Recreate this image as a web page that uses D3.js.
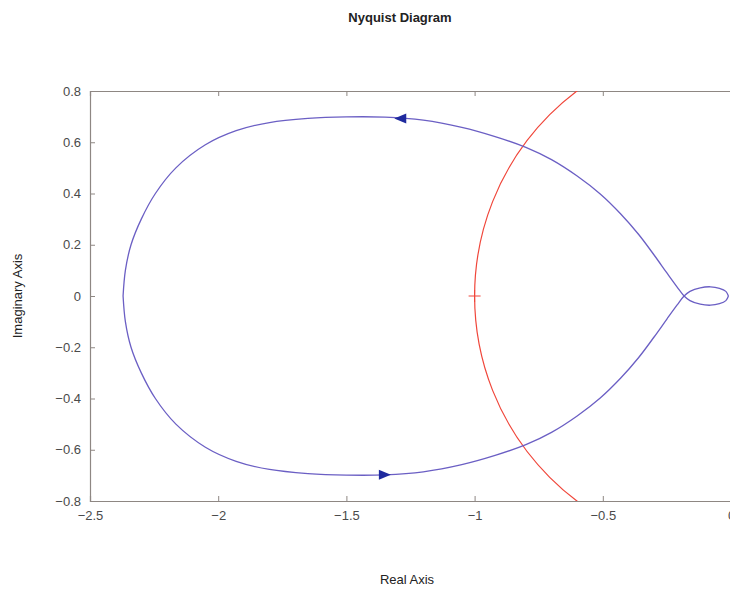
<!DOCTYPE html>
<html lang="en">
  <head>
    <meta charset="utf-8" />
    <title>Nyquist Diagram</title>
    <script src="https://d3js.org/d3.v7.min.js"></script>
    <style type="text/css">
      body { margin: 0; background: #fff; }
      text { font-family: "Liberation Sans", Arial, sans-serif; }
    </style>
  </head>
  <body>
    <script type="text/javascript">
      //Width and height
      const w = 730;
      const h = 590;

      // positive-frequency branch (real, imaginary)
      const re = [-2.371, -2.362, -2.340, -2.300, -2.245, -2.165, -2.05, -1.93, -1.80, -1.65, -1.50, -1.35,
        -1.20, -1.05, -0.92, -0.80, -0.70, -0.60, -0.51, -0.43, -0.36, -0.30, -0.25, -0.21, -0.183,
        -0.16, -0.12, -0.08, -0.045, -0.02, -0.01];
      const im = [0, 0.10, 0.20, 0.30, 0.40, 0.50, 0.59, 0.645, 0.677, 0.693, 0.699, 0.698,
        0.686, 0.658, 0.622, 0.58, 0.532, 0.468, 0.398, 0.32, 0.24, 0.16, 0.09, 0.035, 0,
        -0.018, -0.032, -0.036, -0.03, -0.018, 0];

      // arrow positions [re, im, direction]
      const arrows = [[-1.29, 0.693, -1], [-1.35, -0.698, 1]];

      const xTicks = [-2.5, -2, -1.5, -1, -0.5, 0];
      const yTicks = [0.8, 0.6, 0.4, 0.2, 0, -0.2, -0.4, -0.6, -0.8];
      const criticalPoint = [-1, 0];
      const unitRadius = 1;

      const margin = { left: 90, right: w - 731, top: 91, bottom: h - 501 };

      const xScale = d3.scaleLinear().domain([-2.5, 0]).range([margin.left, w - margin.right]);
      const yScale = d3.scaleLinear().domain([-0.8, 0.8]).range([h - margin.bottom, margin.top]);

      const svg = d3.select('body').append('svg').attr('width', w).attr('height', h);

      svg.append('defs').append('clipPath').attr('id', 'plot')
        .append('rect')
        .attr('x', xScale(-2.5)).attr('y', yScale(0.8))
        .attr('width', xScale(0) - xScale(-2.5))
        .attr('height', yScale(-0.8) - yScale(0.8));

      const frameColor = '#8e8783';
      const labelColor = '#4a4a4a';

      //Axes
      const xAxis = svg.append('g')
        .attr('transform', `translate(0,${yScale(-0.8)})`)
        .call(d3.axisBottom(xScale).tickValues(xTicks).tickSize(-5).tickPadding(10).tickFormat(d3.format('')));
      const xAxisTop = svg.append('g')
        .attr('transform', `translate(0,${yScale(0.8)})`)
        .call(d3.axisTop(xScale).tickValues(xTicks).tickSize(-5).tickFormat(''));
      const yAxis = svg.append('g')
        .attr('transform', `translate(${xScale(-2.5)},0)`)
        .call(d3.axisLeft(yScale).tickValues(yTicks).tickSize(-5).tickPadding(9).tickFormat(d3.format('')));

      [xAxis, xAxisTop, yAxis].forEach((g) => {
        g.select('.domain').attr('stroke', frameColor).attr('stroke-width', 1.2);
        g.selectAll('.tick line').attr('stroke', frameColor);
        g.selectAll('.tick text')
          .attr('fill', labelColor)
          .attr('font-size', '13px')
          .attr('font-family', '"Liberation Sans", Arial, sans-serif');
      });

      const plot = svg.append('g').attr('clip-path', 'url(#plot)');

      // unit circle
      plot.append('circle')
        .attr('cx', xScale(0))
        .attr('cy', yScale(0))
        .attr('r', xScale(unitRadius) - xScale(0))
        .attr('fill', 'none')
        .attr('stroke', '#f0463a')
        .attr('stroke-width', 1.2);

      // critical point marker
      plot.append('path')
        .attr('d', `M${xScale(criticalPoint[0]) - 6},${yScale(criticalPoint[1])}h12M${xScale(criticalPoint[0])},${yScale(criticalPoint[1]) - 6}v12`)
        .attr('stroke', '#f0463a')
        .attr('stroke-width', 1);

      const pos = re.map((r, i) => [r, im[i]]);
      const neg = re.map((r, i) => [r, -im[i]]);

      const line = d3.line()
        .x((d) => xScale(d[0]))
        .y((d) => yScale(d[1]))
        .curve(d3.curveCatmullRom.alpha(0.5));

      plot.selectAll('path.branch')
        .data([pos, neg])
        .enter()
        .append('path')
        .attr('class', 'branch')
        .attr('d', line)
        .attr('fill', 'none')
        .attr('stroke', '#6b5fc4')
        .attr('stroke-width', 1.3);

      plot.selectAll('path.arrow')
        .data(arrows)
        .enter()
        .append('path')
        .attr('class', 'arrow')
        .attr('transform', (d) => `translate(${xScale(d[0])},${yScale(d[1])})`)
        .attr('d', (d) => (d[2] < 0 ? 'M-6,0L6,-5L6,5Z' : 'M6,0L-6,-5L-6,5Z'))
        .attr('fill', '#1f2a9e');

      //Titles
      svg.append('text')
        .attr('x', 400).attr('y', 22)
        .attr('text-anchor', 'middle')
        .attr('font-size', '13px')
        .attr('font-weight', 'bold')
        .attr('fill', '#222')
        .text('Nyquist Diagram');

      svg.append('text')
        .attr('x', 407).attr('y', 584)
        .attr('text-anchor', 'middle')
        .attr('font-size', '13px')
        .attr('fill', '#222')
        .text('Real Axis');

      svg.append('text')
        .attr('transform', `translate(22,${yScale(0)}) rotate(-90)`)
        .attr('text-anchor', 'middle')
        .attr('font-size', '13px')
        .attr('fill', '#222')
        .text('Imaginary Axis');
    </script>
  </body>
</html>
